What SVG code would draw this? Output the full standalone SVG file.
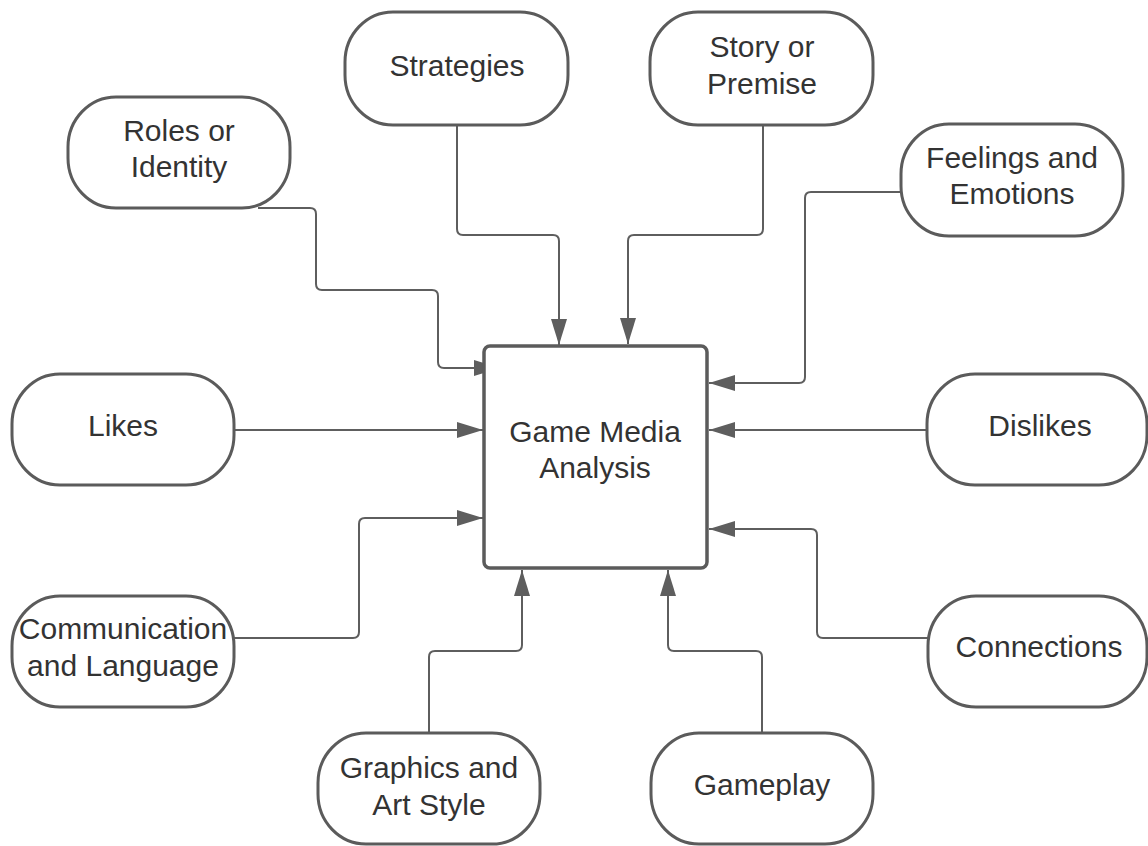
<svg xmlns="http://www.w3.org/2000/svg" width="1148" height="846" viewBox="0 0 1148 846">
<style>
.node{fill:#ffffff;stroke:#5b5b5b;stroke-width:3}
.term{rx:48px;ry:50px}
.txt{font-family:"Liberation Sans",Arial,sans-serif;font-size:30px;fill:#333333;text-anchor:middle}
.conn{fill:none;stroke:#5e5e5e;stroke-width:2}
</style>
<defs>
<marker id="arr" markerUnits="userSpaceOnUse" markerWidth="26" markerHeight="16" refX="26" refY="8" orient="auto">
<path d="M0,0 L26,8 L0,16 z" fill="#5e5e5e"/>
</marker>
</defs>
<rect width="1148" height="846" fill="#ffffff"/>
<g id="connectors">
<path class="conn" marker-end="url(#arr)" d="M 258 208 H 310 Q 316 208 316 214 V 284 Q 316 290 322 290 H 432 Q 438 290 438 296 V 362 Q 438 368 444 368 H 500"/>
<path class="conn" marker-end="url(#arr)" d="M 457 125 V 229 Q 457 235 463 235 H 553 Q 559 235 559 241 V 345"/>
<path class="conn" marker-end="url(#arr)" d="M 763 125 V 229 Q 763 235 757 235 H 634 Q 628 235 628 241 V 344"/>
<path class="conn" marker-end="url(#arr)" d="M 901 192 H 811 Q 805 192 805 198 V 377 Q 805 383 799 383 H 709"/>
<path class="conn" marker-end="url(#arr)" d="M 234 430 H 483"/>
<path class="conn" marker-end="url(#arr)" d="M 927 430 H 709"/>
<path class="conn" marker-end="url(#arr)" d="M 234 638 H 353 Q 359 638 359 632 V 524 Q 359 518 365 518 H 483"/>
<path class="conn" marker-end="url(#arr)" d="M 928 638 H 823 Q 817 638 817 632 V 535 Q 817 529 811 529 H 709"/>
<path class="conn" marker-end="url(#arr)" d="M 429 733 V 657 Q 429 651 435 651 H 516 Q 522 651 522 645 V 570"/>
<path class="conn" marker-end="url(#arr)" d="M 762 733 V 657 Q 762 651 756 651 H 674 Q 668 651 668 645 V 570"/>
</g>
<g id="center">
<rect class="node" x="484" y="346" width="223" height="222" rx="6" style="stroke-width:3.5"/>
<text class="txt" x="595" y="442">Game Media</text>
<text class="txt" x="595" y="478">Analysis</text>
</g>
<g id="roles">
<rect class="node" x="68" y="97" width="222" height="111" rx="48" ry="50"/>
<text class="txt" x="179" y="141">Roles or</text>
<text class="txt" x="179" y="177">Identity</text>
</g>
<g id="strategies">
<rect class="node" x="345" y="12" width="223" height="113" rx="48" ry="50"/>
<text class="txt" x="457" y="76">Strategies</text>
</g>
<g id="story">
<rect class="node" x="650" y="12" width="223" height="113" rx="48" ry="50"/>
<text class="txt" x="762" y="57">Story or</text>
<text class="txt" x="762" y="94">Premise</text>
</g>
<g id="feelings">
<rect class="node" x="901" y="124" width="222" height="112" rx="48" ry="50"/>
<text class="txt" x="1012" y="168">Feelings and</text>
<text class="txt" x="1012" y="204">Emotions</text>
</g>
<g id="likes">
<rect class="node" x="12" y="374" width="222" height="111" rx="48" ry="50"/>
<text class="txt" x="123" y="436">Likes</text>
</g>
<g id="dislikes">
<rect class="node" x="927" y="374" width="220" height="111" rx="48" ry="50"/>
<text class="txt" x="1040" y="436">Dislikes</text>
</g>
<g id="communication">
<rect class="node" x="12" y="596" width="222" height="111" rx="48" ry="50"/>
<text class="txt" x="123" y="639">Communication</text>
<text class="txt" x="123" y="676">and Language</text>
</g>
<g id="connections">
<rect class="node" x="928" y="596" width="219" height="111" rx="48" ry="50"/>
<text class="txt" x="1039" y="657">Connections</text>
</g>
<g id="graphics">
<rect class="node" x="318" y="733" width="222" height="111" rx="48" ry="50"/>
<text class="txt" x="429" y="778">Graphics and</text>
<text class="txt" x="429" y="815">Art Style</text>
</g>
<g id="gameplay">
<rect class="node" x="651" y="733" width="222" height="111" rx="48" ry="50"/>
<text class="txt" x="762" y="795">Gameplay</text>
</g>
</svg>
